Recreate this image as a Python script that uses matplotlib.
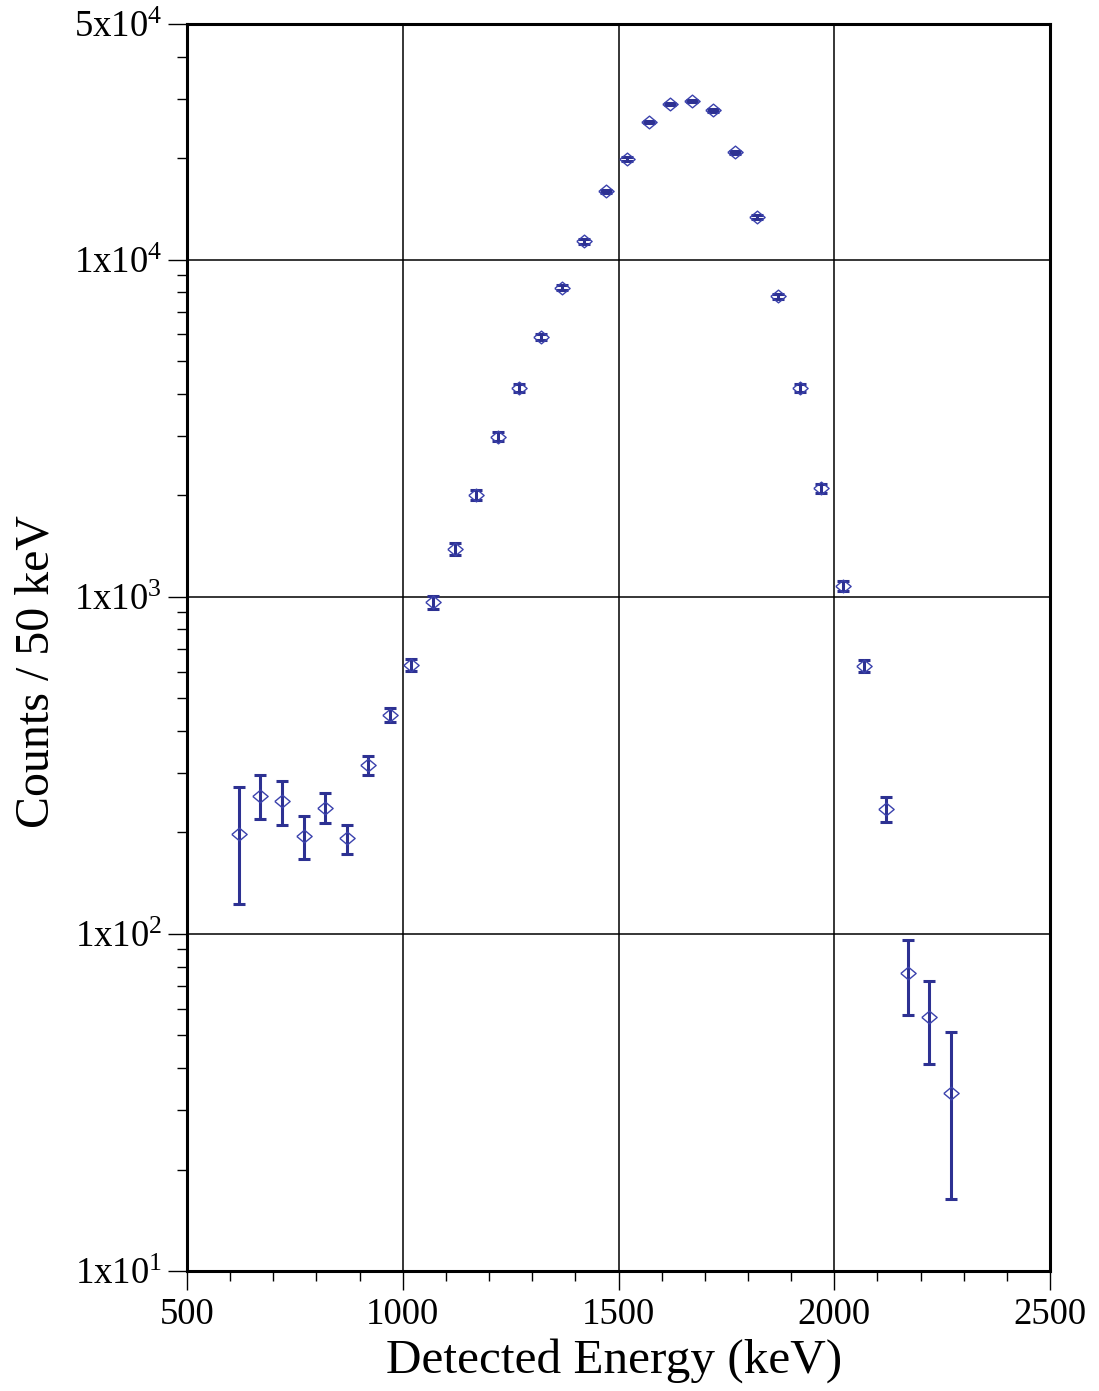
import matplotlib
matplotlib.use("Agg")
import matplotlib.pyplot as plt
from matplotlib.ticker import FixedLocator, FixedFormatter, LogLocator, NullFormatter, MultipleLocator

plt.rcParams['font.family'] = ['Liberation Serif', 'DejaVu Serif']
plt.rcParams['mathtext.fontset'] = 'custom'
plt.rcParams['mathtext.rm'] = 'Liberation Serif'
plt.rcParams['mathtext.it'] = 'Liberation Serif:italic'

# Energy bin centres (keV), counts per 50 keV bin, and their uncertainties
energy = [620, 670, 720, 770, 820, 870, 920, 970, 1020, 1070, 1120, 1170,
          1220, 1270, 1320, 1370, 1420, 1470, 1520, 1570, 1620, 1670, 1720,
          1770, 1820, 1870, 1920, 1970, 2020, 2070, 2120, 2170, 2220, 2270]
counts = [198, 257, 247, 195, 237, 192, 317, 447, 628, 962, 1388, 2008,
          2984, 4171, 5908, 8259, 11330, 15950, 19890, 25620, 28970, 29570,
          27730, 20810, 13420, 7782, 4163, 2102, 1078, 624, 234, 76.6, 56.7, 33.8]
errors = [75, 38, 37, 28, 24, 19, 20.5, 21, 27, 42, 55, 70,
          90, 110, 130, 150, 170, 190, 210, 230, 240, 240,
          235, 210, 180, 150, 100, 65, 38, 27, 20, 19, 15.6, 17.5]

ytick_vals = [10, 100, 1000, 10000, 50000]
ytick_labels = [r'1x10$^{\mathregular{1}}$', r'1x10$^{\mathregular{2}}$',
                r'1x10$^{\mathregular{3}}$', r'1x10$^{\mathregular{4}}$',
                r'5x10$^{\mathregular{4}}$']
xtick_vals = [500, 1000, 1500, 2000, 2500]

bar_color = '#2d3192'
marker_color = '#3b42ad'

fig = plt.figure(figsize=(10.99, 13.91), dpi=100)
ax = fig.add_axes([187/1099, 1 - 1271/1391, (1050 - 187)/1099, (1271 - 24)/1391])

diamond = [(-1.2, 0), (0, 1), (1.2, 0), (0, -1), (-1.2, 0)]
ax.errorbar(energy, counts, yerr=errors, fmt='none', ecolor=bar_color,
            elinewidth=2.2, capsize=4, capthick=2.2, zorder=3)
ax.plot(energy, counts, linestyle='none', marker=diamond, markersize=11,
        markerfacecolor='none', markeredgecolor=marker_color,
        markeredgewidth=1.0, zorder=4)

ax.set_yscale('log')
ax.set_xlim(500, 2500)
ax.set_ylim(10, 50000)

ax.xaxis.set_major_locator(FixedLocator(xtick_vals))
ax.xaxis.set_minor_locator(MultipleLocator(100))
ax.yaxis.set_major_locator(FixedLocator(ytick_vals))
ax.yaxis.set_major_formatter(FixedFormatter(ytick_labels))
ax.yaxis.set_minor_locator(LogLocator(base=10, subs=range(2, 10)))
ax.yaxis.set_minor_formatter(NullFormatter())

ax.tick_params(which='both', direction='out', top=False, right=False,
               width=1.0, color='black')
ax.tick_params(which='major', length=14, labelsize=26.5, pad=4)
ax.tick_params(which='minor', length=7)
ax.tick_params(axis='x', which='major', pad=5)

for s in ax.spines.values():
    s.set_linewidth(2.2)
    s.set_color('black')

# Grid lines at the interior decades and energies
for yv in [100, 1000, 10000]:
    ax.axhline(yv, color='black', linewidth=1.1, zorder=1)
for xv in [1000, 1500, 2000]:
    ax.axvline(xv, color='black', linewidth=1.1, zorder=1)

fig.text(614/1099, 1 - 1361/1391, 'Detected Energy (keV)', fontsize=35.5,
         ha='center', va='center')
fig.text(37/1099, 1 - 672/1391, 'Counts / 50 keV', fontsize=34.5,
         ha='center', va='center', rotation=90)

fig.savefig('out.png', dpi=100)
